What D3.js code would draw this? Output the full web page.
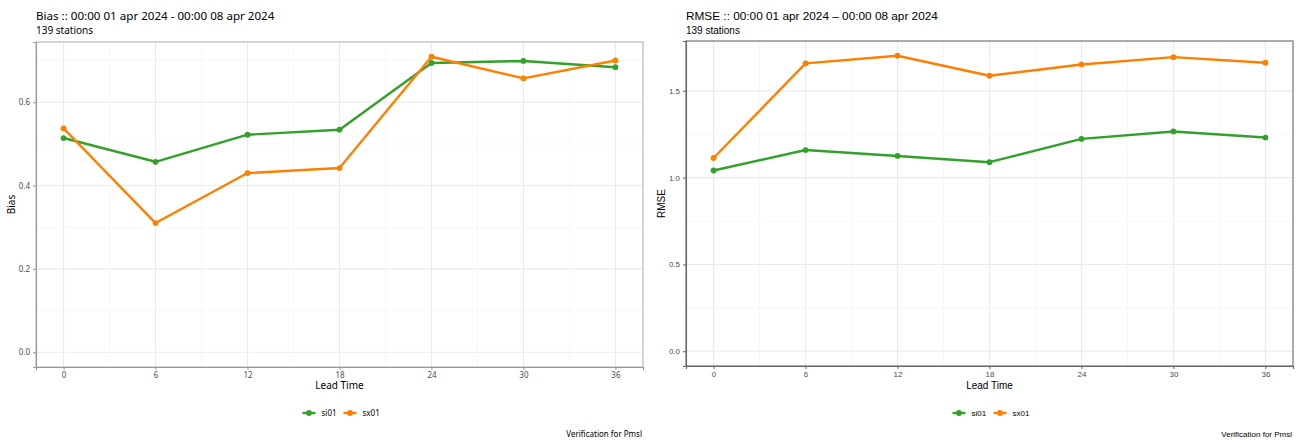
<!DOCTYPE html>
<html>
<head>
<meta charset="utf-8">
<script src="https://cdn.jsdelivr.net/npm/d3@7"></script>
<style>
  body { margin: 0; background: #fff; }
  svg { display: block; }
</style>
</head>
<body>
<svg id="chart" width="1303" height="441"></svg>
<script>
// lead times (hours)
const leadTimes = [0, 6, 12, 18, 24, 30, 36];
const seriesNames = ["si01", "sx01"];
const seriesColors = ["#33a02c", "#ff7f00"];

// Bias per lead time
const biasSi01 = [0.514, 0.457, 0.522, 0.534, 0.694, 0.699, 0.684];
const biasSx01 = [0.537, 0.310, 0.430, 0.442, 0.709, 0.657, 0.700];

// RMSE per lead time
const rmseSi01 = [1.041, 1.159, 1.125, 1.089, 1.223, 1.266, 1.231];
const rmseSx01 = [1.113, 1.658, 1.702, 1.587, 1.652, 1.694, 1.662];

const biasTicks = [0.0, 0.2, 0.4, 0.6];
const rmseTicks = [0.0, 0.5, 1.0, 1.5];

const svg = d3.select("#chart");

function drawPanel(opts) {
    let g = svg.append("g");
    let p = opts.panel;

    let ymax = d3.max(opts.series, s => d3.max(s.values));
    let yspan = ymax * 0.05;
    let x = d3.scaleLinear().domain([-1.8, 37.8]).range([p.left, p.right]);
    let y = d3.scaleLinear().domain([-yspan, ymax + yspan]).range([p.bottom, p.top]);

    // minor grid
    let xMinor = [3, 9, 15, 21, 27, 33];
    let yMinor = d3.pairs(opts.ticks).map(d => (d[0] + d[1]) / 2);
    yMinor.push(opts.ticks[opts.ticks.length - 1] + (opts.ticks[1] - opts.ticks[0]) / 2);
    yMinor = yMinor.filter(v => y(v) > p.top);

    g.selectAll(".xminor").data(xMinor).enter().append("line")
        .attr("x1", d => x(d)).attr("x2", d => x(d))
        .attr("y1", p.top).attr("y2", p.bottom)
        .attr("stroke", "#f2f2f2").attr("stroke-width", 0.6);
    g.selectAll(".yminor").data(yMinor).enter().append("line")
        .attr("x1", p.left).attr("x2", p.right)
        .attr("y1", d => y(d)).attr("y2", d => y(d))
        .attr("stroke", "#f2f2f2").attr("stroke-width", 0.6);
    // major grid
    g.selectAll(".xmajor").data(leadTimes).enter().append("line")
        .attr("x1", d => x(d)).attr("x2", d => x(d))
        .attr("y1", p.top).attr("y2", p.bottom)
        .attr("stroke", "#ebebeb").attr("stroke-width", 1.1);
    g.selectAll(".ymajor").data(opts.ticks).enter().append("line")
        .attr("x1", p.left).attr("x2", p.right)
        .attr("y1", d => y(d)).attr("y2", d => y(d))
        .attr("stroke", "#ebebeb").attr("stroke-width", 1.1);

    // panel border
    g.append("rect")
        .attr("x", p.left).attr("y", p.top)
        .attr("width", p.right - p.left).attr("height", p.bottom - p.top)
        .attr("fill", "none").attr("stroke", opts.border).attr("stroke-width", 1.1);

    // axes
    let xAxis = g.append("g")
        .attr("transform", "translate(0," + p.bottom + ")")
        .call(d3.axisBottom(x).tickValues(leadTimes).tickSize(3).tickPadding(2));
    let yAxis = g.append("g")
        .attr("transform", "translate(" + p.left + ",0)")
        .call(d3.axisLeft(y).tickValues(opts.ticks).tickFormat(d3.format(".1f")).tickSize(3).tickPadding(3));
    for (let ax of [xAxis, yAxis]) {
        ax.select(".domain").attr("stroke", opts.axisColor).attr("stroke-width", 1.1);
        ax.selectAll(".tick line").attr("stroke", opts.axisColor).attr("stroke-width", 1);
        ax.selectAll(".tick text")
            .attr("fill", "#4d4d4d")
            .style("font-family", opts.font)
            .style("font-size", "8px");
    }

    let line = d3.line()
        .x((d, i) => x(leadTimes[i]))
        .y(d => y(d));

    for (let s of opts.series) {
        g.append("path")
            .datum(s.values)
            .attr("fill", "none")
            .attr("stroke", s.color)
            .attr("stroke-width", 2.4)
            .attr("stroke-linejoin", "round")
            .attr("stroke-linecap", "butt")
            .attr("d", line);
        g.selectAll(null)
            .data(s.values)
            .enter()
            .append("circle")
                .attr("r", 2.9)
                .attr("fill", s.color)
                .attr("cx", (d, i) => x(leadTimes[i]))
                .attr("cy", d => y(d));
    }

    // titles
    g.append("text")
        .attr("x", p.left).attr("y", 20)
        .style("font-family", opts.font).style("font-size", opts.titleSize)
        .attr("fill", "#000")
        .text(opts.title);
    g.append("text")
        .attr("x", p.left).attr("y", 34)
        .style("font-family", opts.font).style("font-size", "10px")
        .attr("fill", "#000")
        .text("139 stations");
    g.append("text")
        .attr("transform", "translate(" + (p.left - 21) + "," + ((p.top + p.bottom) / 2) + ") rotate(-90)")
        .attr("text-anchor", "middle")
        .style("font-family", opts.font).style("font-size", "10px")
        .attr("fill", "#000")
        .text(opts.yLabel);
    g.append("text")
        .attr("x", (p.left + p.right) / 2).attr("y", 389)
        .attr("text-anchor", "middle")
        .style("font-family", opts.font).style("font-size", "10px")
        .attr("fill", "#000")
        .text("Lead Time");

    // legend
    let lx = (p.left + p.right) / 2 - 37;
    let legend = g.append("g").attr("transform", "translate(" + lx + ",413)");
    let offsets = [0, 41];
    opts.series.forEach((s, i) => {
        let k = legend.append("g").attr("transform", "translate(" + offsets[i] + ",0)");
        k.append("line").attr("x1", 0).attr("x2", 13).attr("y1", 0).attr("y2", 0)
            .attr("stroke", s.color).attr("stroke-width", 2.4);
        k.append("circle").attr("cx", 6.5).attr("cy", 0).attr("r", 2.9).attr("fill", s.color);
        k.append("text").attr("x", 19).attr("y", 3)
            .style("font-family", opts.font).style("font-size", "8px")
            .attr("fill", "#000")
            .text(s.name);
    });

    // caption
    g.append("text")
        .attr("x", p.right - 1).attr("y", 437)
        .attr("text-anchor", "end")
        .style("font-family", opts.font).style("font-size", "8px")
        .attr("fill", "#000")
        .text("Verification for Pmsl");
}

drawPanel({
    panel: {left: 36, right: 643, top: 42, bottom: 367},
    series: [
        {name: seriesNames[0], color: seriesColors[0], values: biasSi01},
        {name: seriesNames[1], color: seriesColors[1], values: biasSx01}
    ],
    ticks: biasTicks,
    title: "Bias :: 00:00 01 apr 2024 - 00:00 08 apr 2024",
    titleSize: "11.6px",
    yLabel: "Bias",
    font: "Noto Sans",
    border: "#b3b3b3",
    axisColor: "#999999"
});

drawPanel({
    panel: {left: 686, right: 1293, top: 41, bottom: 366},
    series: [
        {name: seriesNames[0], color: seriesColors[0], values: rmseSi01},
        {name: seriesNames[1], color: seriesColors[1], values: rmseSx01}
    ],
    ticks: rmseTicks,
    title: "RMSE :: 00:00 01 apr 2024 \u2013 00:00 08 apr 2024",
    titleSize: "11.8px",
    yLabel: "RMSE",
    font: "Liberation Sans",
    border: "#666666",
    axisColor: "#666666"
});
</script>
</body>
</html>
